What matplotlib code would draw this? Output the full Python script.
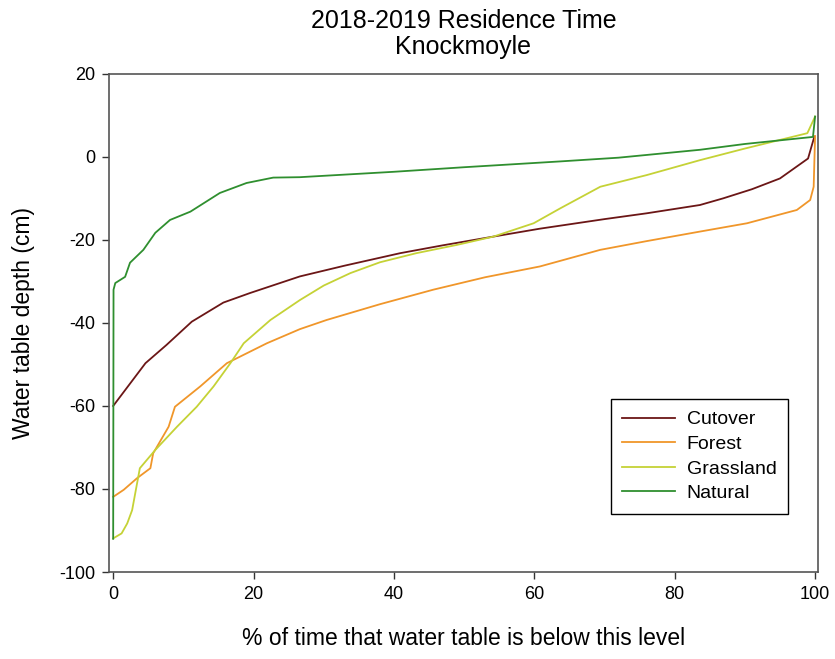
import matplotlib
matplotlib.use("Agg")
import matplotlib.pyplot as plt

plt.rcParams['font.family'] = ['Liberation Sans', 'DejaVu Sans']
plt.rcParams['axes.unicode_minus'] = False

# values (x = % of time, y = water table depth cm)
cutover_x = [0, 4.6, 7.6, 11.2, 15.7, 19.5, 26.6, 33, 40.9, 47, 54.2, 60.8, 70, 76, 83.6, 86.9, 91, 95, 99, 99.9]
cutover_y = [-60, -49.7, -45.3, -39.7, -35.1, -32.8, -28.8, -26.2, -23.2, -21.3, -19.2, -17.3, -15.0, -13.6, -11.6, -10, -7.8, -5.2, -0.4, 4.9]

forest_x = [0, 1.5, 3.4, 5.3, 5.7, 7.9, 8.8, 12.4, 16.2, 21.9, 26.6, 30.4, 38, 45.6, 53, 60.8, 69.4, 76, 83.6, 90.3, 97.4, 99.3, 99.8, 100]
forest_y = [-81.9, -80.2, -77.4, -75, -71.4, -65, -60.2, -55.3, -49.7, -44.9, -41.5, -39.3, -35.5, -32, -29, -26.4, -22.4, -20.3, -18, -16, -12.8, -10.4, -7.2, 5]

grass_x = [0, 1.2, 2, 2.7, 3.8, 6, 9.1, 11.9, 14.3, 16.7, 18.6, 22.4, 26.6, 30, 33.8, 38, 43.2, 49, 54.2, 59.9, 63.7, 69.4, 76, 83.6, 90, 98.9, 100]
grass_y = [-91.9, -90.7, -88.3, -85.1, -75, -70.6, -65, -60.2, -55.3, -49.7, -44.9, -39.3, -34.5, -31, -28, -25.4, -23.2, -21.2, -19.2, -16, -12.4, -7.2, -4.4, -0.8, 2, 5.7, 9.7]

natural_x = [0, 0.05, 0.3, 1.7, 2.4, 4.3, 6, 8.1, 11, 15.2, 19, 22.8, 26.6, 40, 50, 63.7, 72, 83.6, 90, 99.7, 100]
natural_y = [-92, -32, -30.4, -28.9, -25.5, -22.4, -18.3, -15.2, -13.2, -8.7, -6.3, -5, -4.9, -3.6, -2.5, -1.1, -0.2, 1.7, 3.1, 4.8, 9.7]

series = [
    ("Cutover", cutover_x, cutover_y, "#6b1616"),
    ("Forest", forest_x, forest_y, "#f0962a"),
    ("Grassland", grass_x, grass_y, "#c5d236"),
    ("Natural", natural_x, natural_y, "#2f8f2f"),
]

fig = plt.figure(figsize=(8.35, 6.59), dpi=100)
ax = fig.add_axes([0.1305, 0.132, 0.849, 0.756])

for name, xs, ys, col in series:
    ax.plot(xs, ys, color=col, lw=1.3, label=name)

ax.set_xlim(-0.6, 100.4)
ax.set_ylim(-100, 20)
ax.set_xticks(range(0, 101, 20))
ax.set_yticks(range(-100, 21, 20))
ax.tick_params(direction='out', length=5, width=1, labelsize=13, pad=5, color='#333333')
for s in ax.spines.values():
    s.set_color('#555555')
    s.set_linewidth(1.2)

ax.set_xlabel("% of time that water table is below this level", fontsize=16.5, labelpad=17)
ax.set_ylabel("Water table depth (cm)", fontsize=16.5, labelpad=17)
ax.set_title("2018-2019 Residence Time\nKnockmoyle", fontsize=18, pad=14, linespacing=1.12)

leg = ax.legend(loc='upper right', bbox_to_anchor=(0.958, 0.347), borderaxespad=0,
                fontsize=14, fancybox=False, edgecolor='black', framealpha=1,
                handlelength=2.7, borderpad=0.6, labelspacing=0.36, handletextpad=0.6)
leg.get_frame().set_linewidth(1.0)

fig.savefig("out.png", dpi=100)
